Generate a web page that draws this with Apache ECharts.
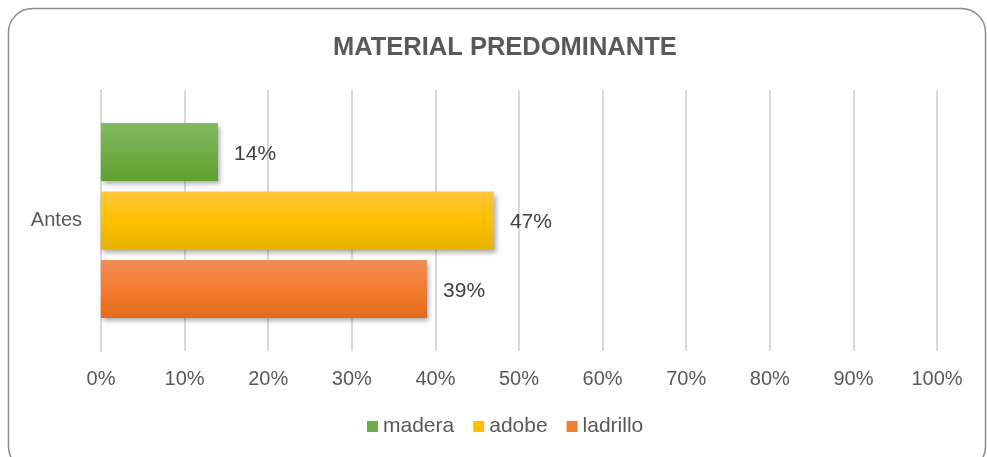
<!DOCTYPE html>
<html lang="es">
<head>
    <meta charset="UTF-8">
    <title>Material predominante</title>
    <script src="https://cdn.jsdelivr.net/npm/echarts/dist/echarts.min.js"></script>
    <style>
        html, body { margin: 0; padding: 0; background: #fff; }
        #chart { width: 987px; height: 457px; }
    </style>
</head>
<body>
    <div id="chart"></div>
    <script>
        var categories = ['Antes'];
        var seriesNames = ['madera', 'adobe', 'ladrillo'];
        var madera = [14];
        var adobe = [47];
        var ladrillo = [39];
        var xTicks = [0, 10, 20, 30, 40, 50, 60, 70, 80, 90, 100];

        function grad(top, mid, bottom) {
            return new echarts.graphic.LinearGradient(0, 0, 0, 1, [
                { offset: 0, color: top },
                { offset: 0.5, color: mid },
                { offset: 1, color: bottom }
            ]);
        }

        var colors = [
            grad('#82bb5f', '#70ad47', '#5fa130'),
            grad('#ffc63c', '#ffc000', '#e8b200'),
            grad('#f08c57', '#f47c30', '#e26a1a')
        ];
        var legendColors = ['#70ad47', '#ffc000', '#ed7d31'];

        var chart = echarts.init(document.getElementById('chart'));
        var values = [madera, adobe, ladrillo];

        var option = {
            animation: false,
            textStyle: { fontFamily: 'Liberation Sans, Arial, sans-serif' },
            title: {
                text: 'MATERIAL PREDOMINANTE',
                left: 328,
                top: 30,
                textStyle: { fontSize: 25.5, fontWeight: 'bold', color: '#595959' }
            },
            graphic: [{
                type: 'rect',
                shape: { x: 8.5, y: 8.5, width: 977, height: 462, r: 24 },
                style: { fill: 'none', stroke: '#8c8c8c', lineWidth: 1.5 },
                silent: true
            }],
            legend: {
                bottom: 15,
                left: 362,
                itemWidth: 11,
                itemHeight: 11,
                itemGap: 19,
                icon: 'rect',
                textStyle: { fontSize: 21, color: '#595959' },
                data: seriesNames.map(function (n, i) {
                    return { name: n, itemStyle: { color: legendColors[i] } };
                })
            },
            grid: { left: 101, right: 50, top: 90, bottom: 106 },
            xAxis: {
                type: 'value',
                min: 0,
                max: 100,
                interval: 10,
                axisLine: { show: false },
                axisTick: { show: false },
                splitLine: { lineStyle: { color: '#d9d9d9', width: 2 } },
                axisLabel: {
                    margin: 18,
                    fontSize: 20,
                    color: '#595959',
                    formatter: function (v) { return xTicks.indexOf(v) >= 0 ? v + '%' : ''; }
                }
            },
            yAxis: {
                type: 'category',
                data: categories,
                inverse: true,
                axisLine: { show: true, lineStyle: { color: '#d9d9d9', width: 2 } },
                axisTick: { show: false },
                axisLabel: { fontSize: 20, color: '#595959', margin: 19 }
            },
            series: seriesNames.map(function (name, i) {
                return {
                    name: name,
                    type: 'bar',
                    data: values[i],
                    barWidth: 58,
                    barGap: '18%',
                    itemStyle: {
                        color: colors[i],
                        shadowColor: 'rgba(0,0,0,0.35)',
                        shadowBlur: 5,
                        shadowOffsetX: 2,
                        shadowOffsetY: 3
                    },
                    label: {
                        show: true,
                        position: 'right',
                        distance: 16,
                        offset: [0, 2],
                        fontSize: 21,
                        color: '#404040',
                        formatter: '{c}%'
                    }
                };
            })
        };

        chart.setOption(option);
    </script>
</body>
</html>
